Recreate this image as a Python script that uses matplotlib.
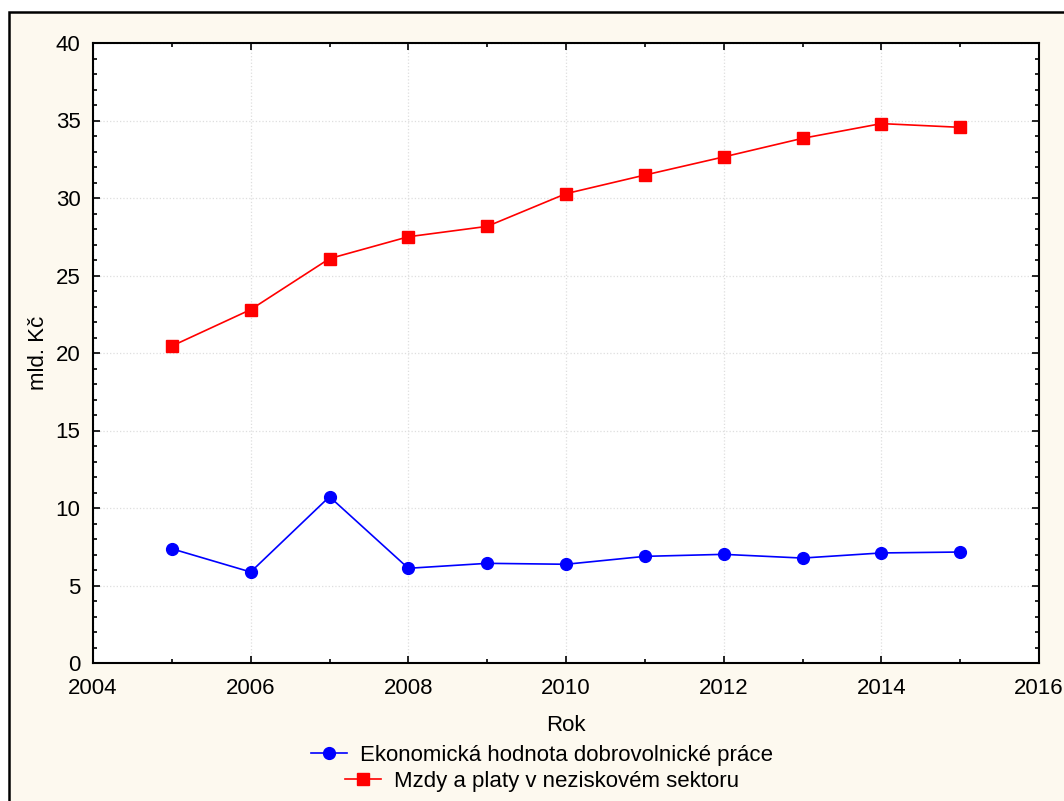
import matplotlib
matplotlib.use("Agg")
import matplotlib.pyplot as plt
from matplotlib.patches import Rectangle
from matplotlib.lines import Line2D
from matplotlib.ticker import MultipleLocator

plt.rcParams['font.family'] = ['Liberation Sans', 'DejaVu Sans']

years = [2005, 2006, 2007, 2008, 2009, 2010, 2011, 2012, 2013, 2014, 2015]
volunteer = [7.37, 5.87, 10.73, 6.11, 6.43, 6.37, 6.88, 7.01, 6.77, 7.10, 7.16]
wages = [20.45, 22.8, 26.09, 27.5, 28.17, 30.28, 31.48, 32.65, 33.85, 34.8, 34.56]
label_volunteer = "Ekonomická hodnota dobrovolnické práce"
label_wages = "Mzdy a platy v neziskovém sektoru"

W, H = 1064, 801
FS = 16
fig = plt.figure(figsize=(W / 100, H / 100), dpi=100)
fig.patch.set_facecolor('white')
bg = Rectangle((9 / W, -0.05), 1.1, (H - 12) / H + 0.05, transform=fig.transFigure,
               facecolor='#FDF9EF', edgecolor='black', linewidth=1.8, zorder=-10)
fig.patches.append(bg)

ax = fig.add_axes([93 / W, (H - 663) / H, (1039 - 93) / W, (663 - 43) / H])
ax.set_facecolor('white')

ax.plot(years, volunteer, color='#0000FF', marker='o', markersize=8.5, linewidth=1.2,
        label=label_volunteer, zorder=3)
ax.plot(years, wages, color='#FF0000', marker='s', markersize=8.5, linewidth=1.2,
        label=label_wages, zorder=3)

ax.set_xlim(2004, 2016)
ax.set_ylim(0, 40)
ax.xaxis.set_major_locator(MultipleLocator(2))
ax.xaxis.set_minor_locator(MultipleLocator(1))
ax.yaxis.set_major_locator(MultipleLocator(5))
ax.yaxis.set_minor_locator(MultipleLocator(1))
ax.tick_params(which='both', direction='in', top=True, right=True, labelsize=FS,
               width=1.2, color='black')
ax.tick_params(which='major', length=5)
ax.tick_params(which='minor', length=3)
ax.tick_params(axis='x', which='major', pad=11)
ax.tick_params(axis='y', which='major', pad=9)
ax.grid(True, which='major', linestyle=':', color='#dedede', linewidth=0.9)
for s in ax.spines.values():
    s.set_linewidth(1.5)

ax.set_xlabel('Rok', fontsize=FS, labelpad=11)
ax.set_ylabel('mld. Kč', fontsize=FS, labelpad=5)

h1 = Line2D([], [], color='#0000FF', marker='o', markersize=8.5, linewidth=1.2)
h2 = Line2D([], [], color='#FF0000', marker='s', markersize=8.5, linewidth=1.2)
leg1 = fig.legend([h1], [label_volunteer], loc='center', bbox_to_anchor=(542 / W, (H - 755) / H),
                  frameon=False, fontsize=FS, handlelength=1.6, handletextpad=0.6,
                  borderpad=0, borderaxespad=0)
leg2 = fig.legend([h2], [label_wages], loc='center', bbox_to_anchor=(542 / W, (H - 781) / H),
                  frameon=False, fontsize=FS, handlelength=1.6, handletextpad=0.6,
                  borderpad=0, borderaxespad=0)

fig.savefig('out.png', dpi=100, facecolor=fig.get_facecolor())
